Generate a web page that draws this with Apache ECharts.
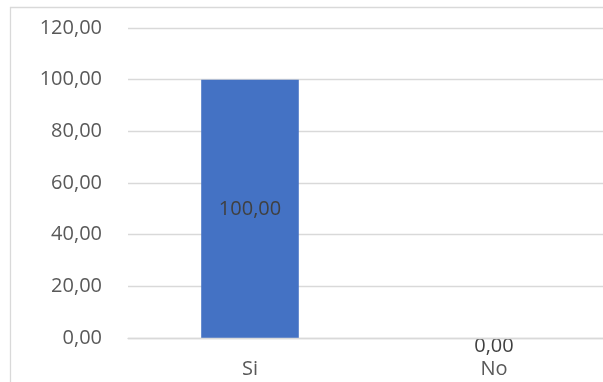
<!DOCTYPE html>
<html>
<head>
<meta charset="utf-8">
<script src="https://cdn.jsdelivr.net/npm/echarts@6/dist/echarts.min.js"></script>
<style>
html,body{margin:0;padding:0;background:#fff;}
#chart{width:603px;height:382px;}
</style>
</head>
<body>
<div id="chart"></div>
<script>
const categories = ['Si', 'No'];
const values = [100, 0];
const yTicks = { min: 0, max: 120, interval: 20 };

const fmt = v => Number(v).toFixed(2).replace('.', ',');
const FONT = '"Open Sans", sans-serif';

const chart = echarts.init(document.getElementById('chart'), null, { renderer: 'canvas' });
chart.setOption({
  animation: false,
  backgroundColor: '#ffffff',
  graphic: [{
    type: 'rect',
    shape: { x: 10.5, y: 7.5, width: 700, height: 500 },
    style: { fill: 'none', stroke: '#d9d9d9', lineWidth: 1.3 },
    silent: true, z: -10
  }],
  grid: { left: 128, top: 28, width: 488, height: 310, containLabel: false, outerBoundsMode: 'none' },
  xAxis: {
    type: 'category',
    data: categories,
    axisLine: { show: true, lineStyle: { color: '#d9d9d9', width: 1.3 } },
    axisTick: { show: false },
    axisLabel: { color: '#595959', fontFamily: FONT, fontSize: 20, margin: 21 },
    z: 5
  },
  yAxis: {
    type: 'value',
    min: yTicks.min, max: yTicks.max, interval: yTicks.interval,
    axisLine: { show: false },
    axisTick: { show: false },
    splitLine: { lineStyle: { color: '#d9d9d9', width: 1.3 } },
    axisLabel: { color: '#595959', fontFamily: FONT, fontSize: 20, margin: 26, formatter: fmt }
  },
  series: [{
    type: 'bar',
    data: values.map(v => v === 0
      ? { value: v, label: { position: 'bottom', distance: -2 } }
      : { value: v }),
    barWidth: '40%',
    itemStyle: { color: '#4472c4' },
    label: {
      show: true,
      color: '#404040',
      fontFamily: FONT,
      fontSize: 20,
      formatter: p => fmt(p.value),
      position: 'inside'
    }
  }]
});
</script>
</body>
</html>
